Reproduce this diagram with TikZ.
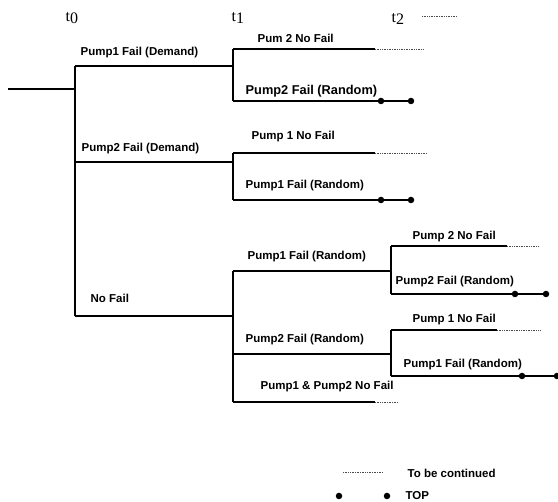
\documentclass[tikz,border=0pt]{standalone}
\usepackage{fontspec}
\setmainfont{Liberation Sans}
\newfontfamily\tserif{Liberation Serif}
\begin{document}
\begin{tikzpicture}[x=1pt,y=-1pt,line width=1.3pt,
  lbl/.style={anchor=west,inner sep=0pt,font=\fontsize{11.5}{13}\selectfont\bfseries},
  biglbl/.style={lbl,font=\fontsize{12.8}{14}\selectfont\bfseries},
  tlbl/.style={anchor=west,inner sep=0pt,font=\fontsize{16}{18}\selectfont\tserif},
  cont/.style={densely dotted,line width=0.7pt,black!70},
  dot/.style={circle,fill=black,inner sep=0pt,minimum size=6.5pt}]
\useasboundingbox (0,0) rectangle (558,502);

% time labels
\node[tlbl] (t0) at (65,18) {t\raisebox{-0.3ex}{0}};
\node[tlbl] (t1) at (231,18) {t\raisebox{-0.3ex}{1}};
\node[tlbl] (t2) at (391,19) {t\raisebox{-0.3ex}{2}};
\coordinate (t2a) at (422,16); \coordinate (t2b) at (457,16);
\draw[cont] (t2a) -- (t2b);

% level 0
\coordinate (s) at (8,89);
\coordinate (a0) at (75,89);
\coordinate (a1) at (75,66);
\coordinate (a2) at (75,162);
\coordinate (a3) at (75,316);
\draw (s) -- (a0);
\draw (a1) -- (a3);

% level 1 junctions
\coordinate (b1) at (233,66);  \coordinate (b1t) at (233,49);  \coordinate (b1b) at (233,101);
\coordinate (b2) at (233,162); \coordinate (b2t) at (233,153); \coordinate (b2b) at (233,200);
\coordinate (b3) at (233,316); \coordinate (b3t) at (233,271); \coordinate (b3m) at (233,354); \coordinate (b3b) at (233,402);
\draw (a1) -- (b1);
\draw (a2) -- (b2);
\draw (a3) -- (b3);
\draw (b1t) -- (b1b);
\draw (b2t) -- (b2b);
\draw (b3t) -- (b3b);

% group 1 ends
\coordinate (e1) at (375,49); \coordinate (e1d) at (423,49);
\draw (b1t) -- (e1); \draw[cont] (e1) -- (e1d);
\node[dot] (d1a) at (381,101) {}; \node[dot] (d1b) at (411,101) {};
\draw (b1b) -- (d1a.center) -- (d1b.center);

% group 2 ends
\coordinate (e2) at (375,153); \coordinate (e2d) at (427,153);
\draw (b2t) -- (e2); \draw[cont] (e2) -- (e2d);
\node[dot] (d2a) at (381,200) {}; \node[dot] (d2b) at (411,200) {};
\draw (b2b) -- (d2a.center) -- (d2b.center);

% group 3
\coordinate (c1) at (391,271); \coordinate (c1t) at (391,246); \coordinate (c1b) at (391,294);
\coordinate (c2) at (391,354); \coordinate (c2t) at (391,330); \coordinate (c2b) at (391,376);
\draw (b3t) -- (c1);
\draw (b3m) -- (c2);
\draw (c1t) -- (c1b);
\draw (c2t) -- (c2b);
\coordinate (e3) at (375,402); \coordinate (e3d) at (398,402);
\draw (b3b) -- (e3); \draw[cont] (e3) -- (e3d);

\coordinate (e4) at (507,246); \coordinate (e4d) at (538,246);
\draw (c1t) -- (e4); \draw[cont] (e4) -- (e4d);
\node[dot] (d4a) at (515,294) {}; \node[dot] (d4b) at (546,294) {};
\draw (c1b) -- (d4a.center) -- (d4b.center);

\coordinate (e5) at (497,330); \coordinate (e5d) at (541,330);
\draw (c2t) -- (e5); \draw[cont] (e5) -- (e5d);
\node[dot] (d5a) at (522,376) {}; \node[dot] (d5b) at (557,376) {};
\draw (c2b) -- (d5a.center) -- (d5b.center);

% labels
\node[lbl] (l1) at (80,53) {Pump1 Fail (Demand)};
\node[lbl] (l2) at (81,149) {Pump2 Fail (Demand)};
\node[lbl] (l3) at (90,298) {No Fail};
\node[lbl] (l4) at (257,38) {Pum 2 No Fail};
\node[biglbl] (l5) at (245,91) {Pump2 Fail (Random)};
\node[lbl] (l6) at (251,137) {Pump 1 No Fail};
\node[lbl] (l7) at (245,186) {Pump1 Fail (Random)};
\node[lbl] (l8) at (247,257) {Pump1 Fail (Random)};
\node[lbl] (l9) at (245,340) {Pump2 Fail (Random)};
\node[lbl] (l10) at (260,387) {Pump1 \& Pump2 No Fail};
\node[lbl] (l11) at (412,237) {Pump 2 No Fail};
\node[lbl] (l12) at (395,282) {Pump2 Fail (Random)};
\node[lbl] (l13) at (412,320) {Pump 1 No Fail};
\node[lbl] (l14) at (403,365) {Pump1 Fail (Random)};

% legend
\coordinate (g1) at (343,472); \coordinate (g2) at (383,472);
\draw[cont] (g1) -- (g2);
\node[lbl] (lg1) at (407,473) {To be continued};
\node[dot] (g3) at (339,496) {};
\node[dot] (g4) at (387,496) {};
\node[lbl] (lg2) at (405,496) {TOP};
\end{tikzpicture}
\end{document}
